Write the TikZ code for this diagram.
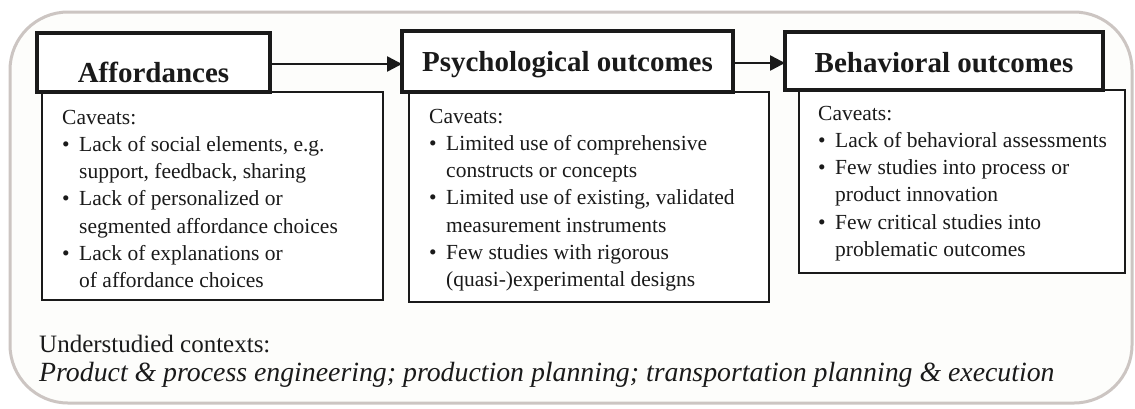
\documentclass[tikz,border=0pt]{standalone}
\usepackage{fontspec}
\setmainfont{Liberation Serif}
\usetikzlibrary{arrows.meta}
\definecolor{ink}{HTML}{1A1A1A}
\definecolor{frame}{HTML}{CCC5C2}
\definecolor{paper}{HTML}{FDFDFB}
\newcommand\bl{\makebox[17pt][l]{\textbullet}}
\newcommand\ind{\hspace*{17pt}}
\tikzset{
  hdrbox/.style={draw=ink, line width=3.5pt, fill=white, inner sep=0pt, outer sep=0pt, anchor=north west},
  cavbox/.style={draw=ink, line width=1.8pt, fill=white, inner sep=0pt, outer sep=0pt, anchor=north west},
  hdrtext/.style={anchor=base, inner sep=0pt, text=ink, font=\fontsize{29}{34}\selectfont\bfseries},
  bodytext/.style={anchor=base west, inner sep=0pt, align=left, text=ink, font=\fontsize{21.5}{27.3}\selectfont},
  ctxtext/.style={anchor=base west, inner sep=0pt, text=ink, font=\fontsize{25}{30}\selectfont},
  arr/.style={draw=ink, line width=2.5pt, -{Triangle[length=15pt,width=15pt]}}
}
\begin{document}
\begin{tikzpicture}[x=1pt,y=-1pt]
\useasboundingbox (0,0) rectangle (1135,408);
\fill[white] (0,0) rectangle (1135,408);
\draw[frame, line width=3pt, fill=paper, rounded corners=58pt] (10,12) rectangle (1132,403);

% caveat boxes
\node[cavbox, minimum width=341pt, minimum height=208pt] (C1) at (42,92) {};
\node[cavbox, minimum width=360pt, minimum height=210pt] (C2) at (409,92) {};
\node[cavbox, minimum width=326pt, minimum height=183pt] (C3) at (799,90) {};

% header boxes
\node[hdrbox, minimum width=233pt, minimum height=59pt] (H1) at (37,33) {};
\node[hdrbox, minimum width=331pt, minimum height=61pt] (H2) at (402,31) {};
\node[hdrbox, minimum width=318pt, minimum height=58pt] (H3) at (785,32) {};

\node[hdrtext] (T1) at (153.5,82) {Affordances};
\node[hdrtext] (T2) at (567.5,71) {Psychological outcomes};
\node[hdrtext] (T3) at (944,72) {Behavioral outcomes};

% arrows
\draw[arr] ([yshift=-1.5pt]H1.east) -- ([yshift=-1.5pt]H1.east -| H2.west);
\draw[arr] ([yshift=-1.5pt]H2.east) -- ([yshift=-1.5pt]H2.east -| H3.west);

% caveat texts (anchored at the baseline of their last line)
\node[bodytext] (B1) at (62,287.8) {Caveats:\\
\bl Lack of social elements, e.g.\\
\ind support, feedback, sharing\\
\bl Lack of personalized or\\
\ind segmented affordance choices\\
\bl Lack of explanations or\\
\ind of affordance choices};

\node[bodytext] (B2) at (429,286.8) {Caveats:\\
\bl Limited use of comprehensive\\
\ind constructs or concepts\\
\bl Limited use of existing, validated\\
\ind measurement instruments\\
\bl Few studies with rigorous\\
\ind (quasi-)experimental designs};

\node[bodytext] (B3) at (818,256.5) {Caveats:\\
\bl Lack of behavioral assessments\\
\bl Few studies into process or\\
\ind product innovation\\
\bl Few critical studies into\\
\ind problematic outcomes};

% contexts
\node[ctxtext] (U1) at (39,352) {Understudied contexts:};
\node[ctxtext, font=\fontsize{27.8}{32}\selectfont\itshape] (U2) at (39,381) {Product \& process engineering; production planning; transportation planning \& execution};
\end{tikzpicture}
\end{document}
